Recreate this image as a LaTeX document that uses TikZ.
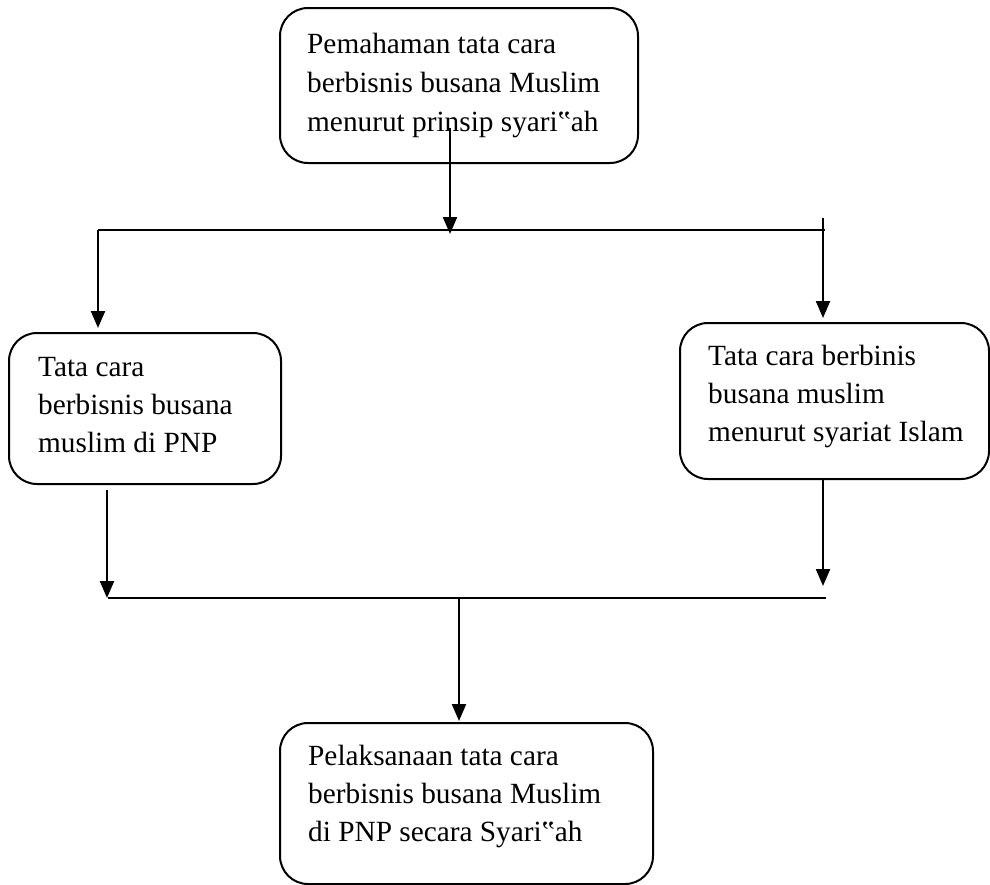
\documentclass[tikz,border=0pt]{standalone}
\usepackage{fontspec}
\setmainfont{Liberation Serif}
\usetikzlibrary{arrows.meta}
\begin{document}
\begin{tikzpicture}[x=1pt,y=-1pt,
  box/.style={draw, line width=2pt, rounded corners=28pt, anchor=north west, inner sep=0pt},
  lbl/.style={anchor=base west, inner sep=0pt, font=\fontsize{29.3}{40}\selectfont},
  conn/.style={line width=2.2pt},
  arr/.style={conn, -{Triangle[length=17pt,width=14pt]}}]
\useasboundingbox (0,0) rectangle (990,884);
\begin{scope}
\clip (0,0) rectangle (990,884);
% boxes
\node[box, minimum width=358pt, minimum height=155pt] (top) at (279,7) {};
\node[box, minimum width=272pt, minimum height=151pt] (left) at (8,332) {};
\node[box, minimum width=309pt, minimum height=156pt] (right) at (679,322) {};
\node[box, minimum width=373pt, minimum height=161pt] (bot) at (279,722) {};
\end{scope}
% texts
\node[lbl] (t1) at (307,53) {Pemahaman tata cara};
\node[lbl] (t2) at (307,92) {berbisnis busana Muslim};
\node[lbl] (t3) at (307,131) {menurut prinsip syari‟ah};
\node[lbl] (l1) at (38,376) {Tata cara};
\node[lbl] (l2) at (38,414) {berbisnis busana};
\node[lbl] (l3) at (38,452) {muslim di PNP};
\node[lbl] (r1) at (708,365) {Tata cara berbinis};
\node[lbl] (r2) at (708,403) {busana muslim};
\node[lbl] (r3) at (708,441) {menurut syariat Islam};
\node[lbl] (b1) at (308,765) {Pelaksanaan tata cara};
\node[lbl] (b2) at (308,803) {berbisnis busana Muslim};
\node[lbl] (b3) at (308,841) {di PNP secara Syari‟ah};
% connector points
\coordinate (s0) at (450,128);
\coordinate (j0) at (450,234);
\coordinate (hl) at (98,230);
\coordinate (hr) at (825,230);
\coordinate (rt) at (823,218);
\coordinate (lt) at (98,328);
\coordinate (rtip) at (823,318);
\coordinate (ls) at (107,490);
\coordinate (ltip) at (107,598);
\coordinate (rs) at (823,478);
\coordinate (rtip2) at (823,586);
\coordinate (bl) at (108,598);
\coordinate (br) at (826,598);
\coordinate (bs) at (459,598);
\coordinate (btip) at (459,721);
% connectors
\draw[arr] (s0) -- (j0);
\draw[conn] (hl) -- (hr);
\draw[arr] (hl) -- (lt);
\draw[arr] (rt) -- (rtip);
\draw[arr] (ls) -- (ltip);
\draw[arr] (rs) -- (rtip2);
\draw[conn] (bl) -- (br);
\draw[arr] (bs) -- (btip);
\end{tikzpicture}
\end{document}
